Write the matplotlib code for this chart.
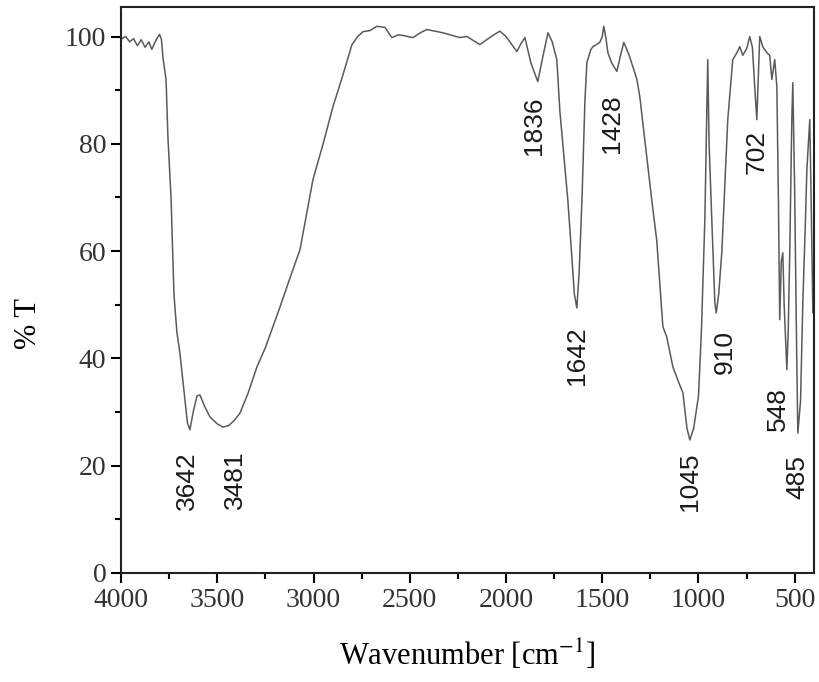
import matplotlib
matplotlib.use("Agg")
import matplotlib.pyplot as plt
from matplotlib.ticker import MultipleLocator

# FTIR spectrum (wavenumber cm-1, % transmittance)
wavenumber = [4000, 3975, 3955, 3935, 3915, 3895, 3875, 3855, 3840, 3820,
              3800, 3790, 3782, 3766, 3756, 3740, 3725, 3710, 3694, 3670,
              3655, 3642, 3625, 3605, 3590, 3565, 3538, 3500, 3470, 3440,
              3410, 3382, 3340, 3294, 3250, 3211, 3170, 3122, 3070, 3003,
              2950, 2899, 2850, 2800, 2770, 2743, 2707, 2671, 2629, 2593,
              2560, 2536, 2484, 2440, 2411, 2328, 2240, 2203, 2136, 2100,
              2068, 2032, 2000, 1970, 1944, 1920, 1902, 1870, 1835, 1810,
              1782, 1760, 1736, 1720, 1700, 1679, 1660, 1645, 1632, 1620,
              1605, 1590, 1580, 1560, 1549, 1530, 1513, 1500, 1492, 1480,
              1471, 1450, 1424, 1405, 1388, 1360, 1320, 1305, 1270, 1243,
              1217, 1185, 1165, 1133, 1097, 1081, 1060, 1045, 1025, 1000,
              985, 967, 952, 945, 931, 915, 908, 895, 879, 860,
              848, 835, 822, 800, 786, 770, 749, 734, 720, 708,
              697, 690, 682, 665, 645, 630, 619, 604, 593, 585,
              578, 570, 562, 555, 541, 534, 526, 515, 510, 500,
              490, 484, 470, 458, 445, 437, 422, 415, 406, 400]
transmittance = [99.5, 100.0, 99.0, 99.6, 98.3, 99.4, 98.0, 99.0, 97.6, 99.2,
                 100.4, 99.5, 96.0, 92.0, 81.0, 70.0, 52.0, 45.0, 41.0, 33.0,
                 28.0, 26.7, 30.0, 33.0, 33.2, 31.0, 29.1, 27.8, 27.2, 27.5,
                 28.5, 29.8, 33.5, 38.4, 42.0, 45.9, 50.0, 55.0, 60.3, 73.3,
                 80.0, 86.9, 92.5, 98.5, 100.0, 100.9, 101.1, 101.9, 101.7, 99.8,
                 100.3, 100.2, 99.8, 100.8, 101.3, 100.7, 99.8, 100.0, 98.5, 99.4,
                 100.2, 101.0, 100.0, 98.5, 97.2, 98.8, 99.8, 95.0, 91.6, 96.0,
                 100.7, 99.0, 95.7, 86.0, 78.0, 69.6, 60.0, 52.0, 49.4, 56.0,
                 70.0, 88.0, 95.1, 97.5, 98.1, 98.5, 98.9, 100.0, 101.9, 99.5,
                 97.0, 95.0, 93.5, 96.5, 98.9, 96.5, 92.0, 88.8, 78.0, 69.6,
                 62.0, 45.9, 44.0, 38.4, 35.0, 33.6, 27.0, 24.8, 27.0, 33.0,
                 45.0, 65.9, 95.7, 80.0, 65.9, 50.4, 48.5, 52.0, 59.7, 75.0,
                 84.5, 90.0, 95.7, 97.0, 98.1, 96.5, 97.8, 100.0, 98.0, 90.7,
                 84.5, 92.0, 100.0, 98.0, 97.0, 96.5, 92.0, 95.7, 90.7, 70.0,
                 47.2, 58.0, 59.7, 50.0, 37.9, 45.0, 59.7, 85.0, 91.4, 70.0,
                 41.0, 26.1, 32.0, 50.4, 65.0, 75.2, 84.5, 70.0, 48.5, 50.0]

# peak annotations: text and where the top of the vertical label sits
peak_text = ["3642", "3481", "1836", "1428", "1642", "1045", "910", "702", "548", "485"]
peak_wn = [3657, 3408, 1855, 1450, 1632, 1045, 864, 697, 588, 484]
peak_t = [22.6, 22.9, 88.8, 89.2, 45.9, 22.4, 45.3, 82.6, 34.7, 22.0]

plt.rcParams['mathtext.fontset'] = 'stix'
serif = ['Liberation Serif', 'DejaVu Serif']
narrow = ['Liberation Sans Narrow', 'Liberation Sans', 'DejaVu Sans']

fig = plt.figure(figsize=(8.2, 6.82), dpi=100)
ax = fig.add_axes([121 / 820, 1 - 573 / 682, (814 - 121) / 820, (573 - 7) / 682])

ax.plot(wavenumber, transmittance, color='#5a5a5a', linewidth=1.1)

for txt, xw, yt in zip(peak_text, peak_wn, peak_t):
    ax.text(xw, yt, txt, rotation=90, ha='center', va='top',
            fontsize=19, family=narrow, color='#1a1a1a')

ax.set_xlim(4000, 400)
ax.set_ylim(0, 105.5)
ax.xaxis.set_major_locator(MultipleLocator(500))
ax.xaxis.set_minor_locator(MultipleLocator(250))
ax.yaxis.set_major_locator(MultipleLocator(20))
ax.yaxis.set_minor_locator(MultipleLocator(10))
ax.tick_params(which='major', direction='out', length=7, width=1.5, labelsize=20)
ax.tick_params(which='minor', direction='out', length=4, width=1.5)
for lab in ax.get_xticklabels() + ax.get_yticklabels():
    lab.set_family(serif)
    lab.set_color('#333333')
for s in ax.spines.values():
    s.set_linewidth(1.5)
    s.set_color('#222222')

ax.set_xlabel('Wavenumber [cm$^{-1}$]', fontsize=22, family=serif, labelpad=18)
ax.set_ylabel('% T', fontsize=22, family=serif)
ax.yaxis.set_label_coords(-0.112, 0.44)

fig.savefig('out.png', dpi=100)
